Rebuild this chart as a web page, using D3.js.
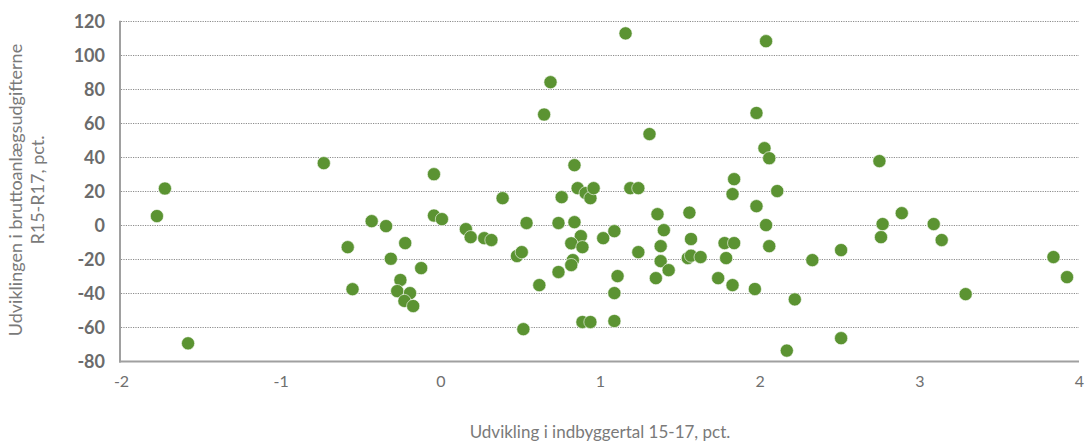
<!DOCTYPE html>
<html><head><meta charset="utf-8">
<script src="https://cdn.jsdelivr.net/npm/d3@7"></script>
<style>body{margin:0;background:#fff}svg{display:block}</style>
</head><body>
<svg id="c" width="1089" height="441"></svg>
<script>
const xValues = [-1.725,-1.775,-1.58,-0.73,-0.58,-0.55,-0.43,-0.34,-0.31,-0.22,-0.12,-0.25,-0.27,-0.19,-0.225,-0.17,-0.04,-0.04,0.01,0.16,0.19,0.275,0.32,0.39,0.48,0.51,0.54,0.62,0.52,0.69,0.65,0.76,0.84,0.74,0.84,0.86,0.91,0.94,0.96,0.88,0.82,0.89,0.83,0.82,0.74,0.89,0.94,1.09,1.02,1.09,1.11,1.09,1.16,1.19,1.24,1.24,1.31,1.36,1.40,1.38,1.38,1.43,1.35,1.56,1.57,1.55,1.57,1.63,1.78,1.84,1.79,1.74,1.83,1.83,1.84,1.97,1.98,1.98,2.04,2.03,2.06,2.11,2.04,2.06,2.33,2.51,2.22,2.17,2.51,2.75,2.77,2.76,2.89,3.09,3.14,3.29,3.84,3.925];
const yValues = [21.7,5.5,-69.3,36.6,-12.8,-37.5,2.5,-0.4,-19.6,-10.4,-25.1,-32.1,-38.6,-39.8,-44.4,-47.4,30.1,5.8,3.7,-2.2,-6.9,-7.5,-8.6,16.0,-18.0,-15.7,1.4,-35.1,-61.0,84.2,65.2,16.6,35.4,1.4,1.9,21.9,19.0,16.0,21.9,-6.3,-10.5,-12.8,-20.4,-23.3,-27.4,-56.8,-56.8,-56.2,-7.5,-3.4,-29.8,-39.8,112.9,21.9,21.9,-15.7,53.7,6.6,-2.8,-12.2,-21.0,-26.3,-31.0,7.5,-8.0,-19.2,-17.8,-18.6,-10.4,-10.4,-19.2,-31.0,-35.1,18.4,27.2,-37.4,11.3,66.1,108.3,45.4,39.5,20.2,0.2,-12.2,-20.4,-14.5,-43.5,-73.6,-66.3,37.8,0.8,-6.9,7.2,0.8,-8.6,-40.4,-18.6,-30.4];
const xTicks = [-2,-1,0,1,2,3,4];
const yTicks = [-80,-60,-40,-20,0,20,40,60,80,100,120];
const xTitle = "Udvikling i indbyggertal 15-17, pct.";
const yTitleLines = ["Udviklingen i bruttoanlægsudgifterne", "R15-R17, pct."];

const svg = d3.select("#c");
const x = d3.scaleLinear().domain([-2,4]).range([121,1079]);
const y = d3.scaleLinear().domain([-80,120]).range([361.5,21.3]);
const font = "Lato, 'Open Sans', sans-serif";
const fmt = d => String(d);

// gridlines
svg.append("g").selectAll("line").data(yTicks.filter(d=>d!==-80)).join("line")
  .attr("x1",121).attr("x2",1079)
  .attr("y1",d=>Math.round(y(d))+0.5).attr("y2",d=>Math.round(y(d))+0.5)
  .attr("stroke","#8c8c8c").attr("stroke-width",1).attr("stroke-dasharray","1.2,1.2");

// axes lines
svg.append("line").attr("x1",120).attr("x2",120).attr("y1",y(120)-0.5).attr("y2",y(-80)+1)
  .attr("stroke","#a0a0a0").attr("stroke-width",2);
svg.append("line").attr("x1",119).attr("x2",1079).attr("y1",y(-80)).attr("y2",y(-80))
  .attr("stroke","#a0a0a0").attr("stroke-width",2);

// y axis tick labels
const yAxis = d3.axisLeft(y).tickValues(yTicks).tickFormat(fmt).tickSize(0).tickPadding(15);
const gy = svg.append("g").attr("transform","translate(120,0)").call(yAxis);
gy.select(".domain").remove();
gy.selectAll("text").attr("font-family",font).attr("font-size",18).attr("font-weight","bold").attr("fill","#6b6b6b");

// x axis tick labels
const xAxis = d3.axisBottom(x).tickValues(xTicks).tickFormat(fmt).tickSize(0).tickPadding(14);
const gx = svg.append("g").attr("transform",`translate(0,${y(-80)})`).call(xAxis);
gx.select(".domain").remove();
gx.selectAll("text").attr("font-family",font).attr("font-size",16).attr("fill","#6f6f6f");

// points
const pts = xValues.map((v,i)=>({x:v,y:yValues[i]}));
svg.append("g").selectAll("circle").data(pts).join("circle")
  .attr("cx",d=>x(d.x)).attr("cy",d=>y(d.y)).attr("r",6.6)
  .attr("fill","#5b9332").attr("stroke","#ffffff").attr("stroke-width",0.6);

// titles
svg.append("text").attr("x",600).attr("y",438).attr("text-anchor","middle")
  .attr("font-family",font).attr("font-size",17).attr("fill","#7a7a7a").text(xTitle);
const yt = svg.append("text").attr("transform","translate(0,190) rotate(-90)")
  .attr("text-anchor","middle").attr("font-family",font).attr("font-size",18).attr("fill","#7a7a7a");
yTitleLines.forEach((t,i)=>yt.append("tspan").attr("x",0).attr("y",22+i*22).text(t));
</script>
</body></html>
